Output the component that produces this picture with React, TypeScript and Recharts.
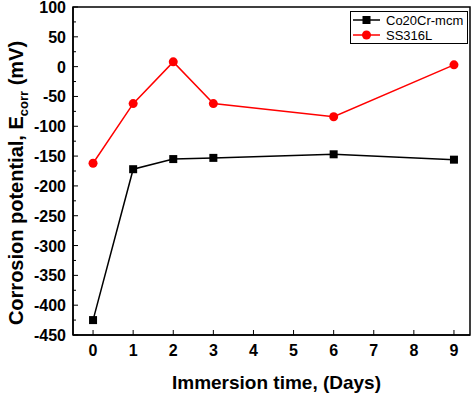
import { LineChart, Line, XAxis, YAxis, ReferenceArea } from 'recharts'

const days = [0, 1, 2, 3, 6, 9]
const co20cr = [-425, -172, -155, -153, -147, -156]
const ss316l = [-162, -62, 8, -62, -84, 3]
const xTicks = [0, 1, 2, 3, 4, 5, 6, 7, 8, 9]
const yTicks = [
  -450, -425, -400, -375, -350, -325, -300, -275, -250, -225, -200, -175, -150, -125, -100, -75, -50, -25, 0, 25,
  50, 75, 100,
]
const seriesNames = ['Co20Cr-mcm', 'SS316L']

const data = days.map((d, i) => ({ day: d, co: co20cr[i], ss: ss316l[i] }))

const font = 'Arial, "Liberation Sans", sans-serif'

function XTick({ x, y, payload }: { x?: number; y?: number; payload?: { value: number } }) {
  return (
    <g>
      <line x1={x} y1={y} x2={x} y2={(y ?? 0) - 5} stroke="#000" strokeWidth={1} />
      <text x={x} y={(y ?? 0) + 21} textAnchor="middle" fontSize={16} fontWeight="bold" fontFamily={font} fill="#000">
        {payload?.value}
      </text>
    </g>
  )
}

function YTick({ x, y, payload }: { x?: number; y?: number; payload?: { value: number } }) {
  const v = payload?.value ?? 0
  const major = v % 50 === 0
  return (
    <g>
      <line x1={x} y1={y} x2={(x ?? 0) + (major ? 5 : 3)} y2={y} stroke="#000" strokeWidth={1} />
      {major && (
        <text x={(x ?? 0) - 7} y={(y ?? 0) + 6} textAnchor="end" fontSize={16} fontWeight="bold" fontFamily={font} fill="#000">
          {v}
        </text>
      )}
    </g>
  )
}

function Square({ cx, cy }: { cx?: number; cy?: number }) {
  return <rect x={(cx ?? 0) - 4} y={(cy ?? 0) - 4} width={8} height={8} fill="#000" />
}

// legend drawn as an overlay so it doesn't eat into the plot area
function LegendBox() {
  const colors = ['#000', '#ff0000']
  return (
    <svg width={118} height={33} style={{ position: 'absolute', left: 350, top: 11 }}>
      <rect x={0.5} y={0.5} width={117} height={32} fill="#fff" stroke="#000" />
      {seriesNames.map((name, i) => {
        const cy = 9 + i * 15
        return (
          <g key={name}>
            <line x1={3} y1={cy} x2={30} y2={cy} stroke={colors[i]} strokeWidth={1.5} />
            {i === 0 ? (
              <rect x={12.5} y={cy - 4} width={8} height={8} fill={colors[i]} />
            ) : (
              <circle cx={16.5} cy={cy} r={4.5} fill={colors[i]} />
            )}
            <text x={36} y={cy + 5} fontSize={13} fontFamily={font} fill="#000">
              {name}
            </text>
          </g>
        )
      })}
    </svg>
  )
}

function YTitle() {
  return (
    <text
      transform="translate(23, 183) rotate(-90)"
      textAnchor="middle"
      fontSize={20}
      fontWeight="bold"
      fontFamily={font}
      fill="#000"
    >
      Corrosion potential, E
      <tspan fontSize={13} dy={5}>
        corr
      </tspan>
      <tspan dy={-5}> (mV)</tspan>
    </text>
  )
}

export default function App() {
  return (
    <div style={{ position: 'absolute', left: 0, top: 0, width: 474, height: 393, background: '#fff' }}>
      <LineChart width={474} height={393} data={data} margin={{ top: 7, right: 4, left: 0, bottom: 0 }}>
        <XAxis
          dataKey="day"
          type="number"
          domain={[-0.5, 9.4]}
          ticks={xTicks}
          tick={<XTick />}
          tickLine={false}
          tickSize={0}
          tickMargin={0}
          height={58}
          axisLine={{ stroke: '#000', strokeWidth: 1.5 }}
          interval={0}
          label={{
            value: 'Immersion time, (Days)',
            position: 'insideBottom',
            offset: 4,
            dx: 5,
            style: { fontSize: 19, fontWeight: 'bold', fontFamily: font, fill: '#000' },
          }}
        />
        <YAxis
          type="number"
          domain={[-450, 100]}
          ticks={yTicks}
          tick={<YTick />}
          tickLine={false}
          tickSize={0}
          tickMargin={0}
          width={73}
          interval={0}
          axisLine={{ stroke: '#000', strokeWidth: 1.5 }}
          label={{ content: () => <YTitle /> }}
        />
        <ReferenceArea
          x1={-0.5}
          x2={9.4}
          y1={-450}
          y2={100}
          fill="none"
          stroke="#000"
          strokeWidth={1.5}
          ifOverflow="visible"
        />
        <Line
          type="linear"
          dataKey="co"
          name={seriesNames[0]}
          stroke="#000"
          strokeWidth={1.5}
          dot={<Square />}
          activeDot={false}
          isAnimationActive={false}
        />
        <Line
          type="linear"
          dataKey="ss"
          name={seriesNames[1]}
          stroke="#ff0000"
          strokeWidth={1.5}
          dot={{ r: 4.5, fill: '#ff0000', stroke: '#ff0000', strokeWidth: 0 }}
          activeDot={false}
          isAnimationActive={false}
        />
      </LineChart>
      <LegendBox />
    </div>
  )
}
